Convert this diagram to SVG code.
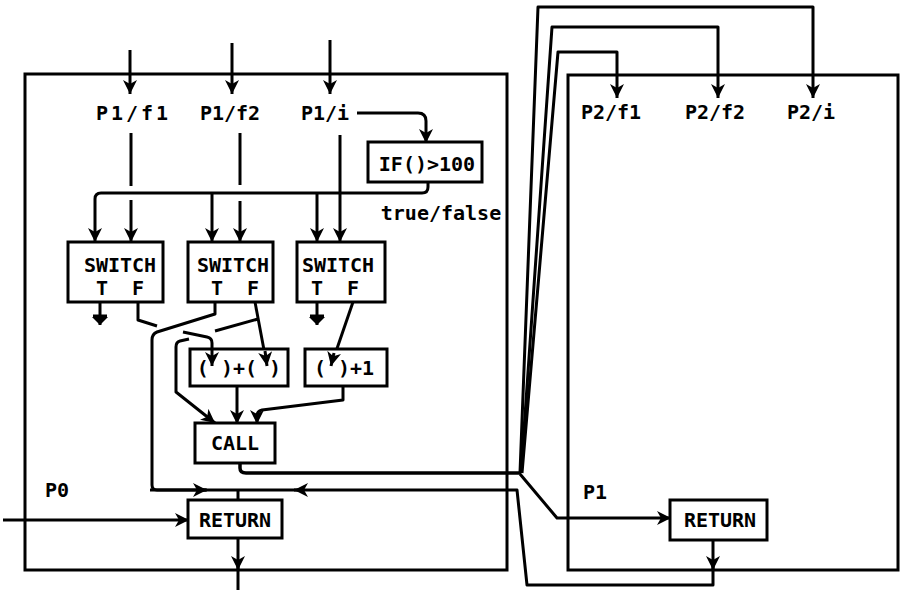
<svg xmlns="http://www.w3.org/2000/svg" width="900" height="590" viewBox="0 0 900 590">
<style>
.frame{fill:none;stroke:#000;stroke-width:3}
.box{fill:#fff;stroke:#000;stroke-width:3}
.ln{fill:none;stroke:#000;stroke-width:3;stroke-linejoin:round}
.a{marker-end:url(#ah)}
.g{marker-end:url(#gnd)}
text{font-family:"DejaVu Sans Mono","Liberation Mono",monospace;font-weight:bold;font-size:20px;fill:#000;text-anchor:middle}
</style>
<defs>
<marker id="ah" markerUnits="userSpaceOnUse" markerWidth="15" markerHeight="14" refX="14" refY="7" orient="auto" viewBox="0 0 15 14">
<path d="M0,0 L14,7 L0,14 L4,7 Z" fill="#000"/>
</marker>
<marker id="gnd" markerUnits="userSpaceOnUse" markerWidth="10" markerHeight="18" refX="8" refY="9" orient="auto" viewBox="0 0 10 18">
<path d="M0,1 L8,9 L0,17 Z" fill="#000"/>
</marker>
</defs>

<g id="P0">
<rect class="frame" x="25" y="74" width="482" height="496"/>
<text x="57" y="497">P0</text>
</g>
<g id="P1">
<rect class="frame" x="568" y="75" width="330" height="495"/>
<text x="595" y="499">P1</text>
</g>

<g id="labels-P1">
<text id="P1f1" x="132" y="120" textLength="72">P1/f1</text>
<text id="P1f2" x="230" y="120">P1/f2</text>
<text id="P1i" x="325" y="120">P1/i</text>
</g>
<g id="labels-P2">
<text id="P2f1" x="611" y="119">P2/f1</text>
<text id="P2f2" x="715" y="119">P2/f2</text>
<text id="P2i" x="811" y="119">P2/i</text>
</g>

<g id="connectors">
<path class="ln a" d="M130,50 V94"/>
<path class="ln a" d="M232,43 V94"/>
<path class="ln a" d="M330,40 V94"/>
<path class="ln" d="M131,133 V186"/>
<path class="ln a" d="M131,200 V242"/>
<path class="ln" d="M240,133 V185"/>
<path class="ln a" d="M240,201 V242"/>
<path class="ln a" d="M340,135 V242"/>
<path class="ln a" d="M357,113 H418 Q426,113 426,121 V143"/>
<path class="ln a" d="M428,182 V187 Q428,193 422,193 H101 Q95,193 95,199 V242"/>
<path class="ln a" d="M212,193 V242"/>
<path class="ln a" d="M317,193 V242"/>
<path class="ln g" d="M100,302 V325"/>
<path class="ln" d="M93,316 H107"/>
<path class="ln g" d="M317,302 V325"/>
<path class="ln" d="M310,316 H324"/>
<path class="ln" d="M138,302 V320 L157,326"/>
<path class="ln a" d="M183,332 L207,337 Q212,338 212,343 V366"/>
<path class="ln" d="M215,302 V314 L157,332 Q152,334 152,340 V485 Q152,490 157,490 H206"/>
<path class="ln a" d="M150,490 H207"/>
<path class="ln" d="M200,490 H300"/>
<path class="ln" d="M238,490 V500"/>
<path class="ln a" d="M255,302 L267,366"/>
<path class="ln" d="M258,319 L215,331"/>
<path class="ln a" d="M189,339 L180,341 Q176,342 176,347 V392 L215,423"/>
<path class="ln a" d="M353,302 L331,366"/>
<path class="ln a" d="M237,386 V424"/>
<path class="ln a" d="M343,386 V400 L262,410 Q257,411 257,416 V424"/>
<path class="ln" d="M240,463 V468 Q240,473 246,473 H521" style="stroke-width:3.5"/>
<path class="ln a" d="M520,473 L538,7 H813 V98"/>
<path class="ln a" d="M521,473 L552,27 H718 V98"/>
<path class="ln a" d="M522,473 L558,52 H617 V98"/>
<path class="ln a" d="M520,474 L557,518 H671"/>
<path class="ln a" d="M713,540 V570"/>
<path class="ln a" d="M713,565 V585 H527 L517,490 H294"/>
<path class="ln a" d="M238,538 V570"/>
<path class="ln" d="M238,565 V590"/>
<path class="ln a" d="M3,520 H189"/>
</g>

<g id="IF">
<rect class="box" x="368" y="142" width="114" height="40"/>
<text x="427" y="171">IF()&gt;100</text>
</g>
<text id="truefalse" x="441" y="220">true/false</text>

<g id="SWITCH1">
<rect class="box" x="68" y="242" width="95" height="60"/>
<text x="120" y="272">SWITCH</text>
<text x="102" y="295">T</text>
<text x="138" y="295">F</text>
</g>
<g id="SWITCH2">
<rect class="box" x="188" y="242" width="85" height="60"/>
<text x="233" y="272">SWITCH</text>
<text x="217" y="295">T</text>
<text x="253" y="295">F</text>
</g>
<g id="SWITCH3">
<rect class="box" x="297" y="242" width="88" height="60"/>
<text x="338" y="272">SWITCH</text>
<text x="317" y="295">T</text>
<text x="353" y="295">F</text>
</g>

<g id="ADD">
<rect class="box" x="190" y="349" width="98" height="37"/>
<text x="239" y="375" xml:space="preserve">( )+( )</text>
</g>
<g id="INC">
<rect class="box" x="305" y="349" width="82" height="37"/>
<text x="344" y="375" xml:space="preserve">( )+1</text>
</g>

<g id="CALL">
<rect class="box" x="195" y="423" width="80" height="40"/>
<text x="235" y="450">CALL</text>
</g>

<g id="RETURN0">
<rect class="box" x="188" y="500" width="94" height="38"/>
<text x="235" y="527">RETURN</text>
</g>
<g id="RETURN1">
<rect class="box" x="670" y="500" width="97" height="40"/>
<text x="720" y="527">RETURN</text>
</g>

<g id="paren-arrows">
<path class="ln a" d="M212,350 V366"/>
<path class="ln a" d="M265,351 L267,366"/>
<path class="ln a" d="M334,353 L331,366"/>
</g>
</svg>
